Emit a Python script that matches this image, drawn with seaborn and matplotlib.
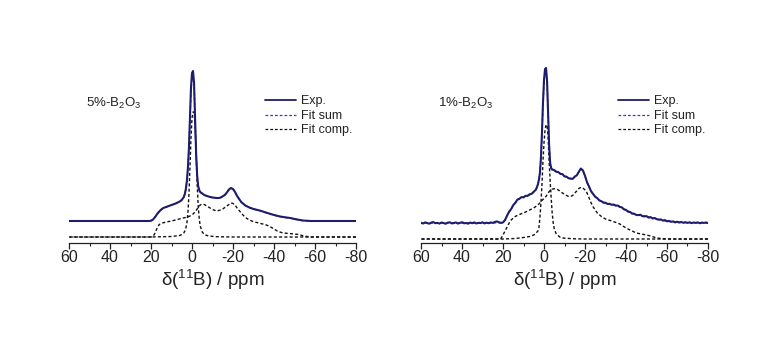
import matplotlib
matplotlib.use("Agg")
import numpy as np
import pandas as pd
import matplotlib.pyplot as plt
import seaborn as sns
from matplotlib.ticker import MultipleLocator
from matplotlib.lines import Line2D

# ---------------- data (intensity in arbitrary units) ----------------
# 5%-B2O3 panel
ppm_exp_5 = [60, 50, 40, 30, 25, 21, 20, 19, 18, 17, 16, 15, 14, 12, 10, 8, 6, 5, 4, 3.5, 3,
             2.5, 2, 1.5, 1, 0.5, 0, -0.5, -1, -1.5, -2, -2.5, -3, -3.5, -4, -5, -6, -8, -10,
             -12, -13, -14, -16, -17, -18, -19, -20, -21, -22, -24, -26, -28, -30, -33, -36,
             -40, -43, -46, -48, -50, -54, -58, -62, -70, -80]
exp_5 = [22, 22, 22, 22, 22, 22, 22.3, 23.5, 26, 29, 31.5, 33.5, 35, 36.5, 38, 39.5, 41.5, 43,
         46, 49, 54, 62, 75, 95, 125, 155, 170, 172, 160, 125, 90, 68, 57, 53, 51, 49.5, 48,
         46.5, 45.5, 45, 45, 45.5, 48, 50.5, 53.5, 55, 54, 51, 47, 41, 37.5, 35.5, 34, 32.5,
         30.5, 28, 26.5, 25.5, 25, 24, 22.5, 22, 22, 22, 22]
fitsum_5 = [22, 22, 22, 22, 22, 22, 22.2, 23.3, 25.8, 28.8, 31.3, 33.3, 34.8, 36.4, 37.9, 39.4,
            41.4, 42.9, 45.8, 48.8, 53.8, 61.5, 74, 94, 123, 152, 167, 169, 158, 124, 89, 67.5,
            56.8, 52.8, 50.8, 49.3, 47.8, 46.4, 45.4, 44.9, 44.9, 45.4, 47.8, 50.3, 53.2, 54.7,
            53.8, 50.8, 46.9, 41, 37.4, 35.4, 33.9, 32.4, 30.4, 27.9, 26.4, 25.4, 24.9, 23.9,
            22.4, 22, 22, 22, 22]
ppm_broad_5 = [60, 30, 20, 19, 18, 17, 16, 15, 14, 12, 10, 8, 5, 2, 0, -1, -2, -3, -4, -5, -6,
               -8, -10, -12, -14, -15, -17, -19, -20, -21, -22, -24, -26, -28, -30, -33, -36,
               -38, -40, -42, -44, -46, -50, -52, -54, -56, -58, -80]
broad_5 = [6, 6, 6, 6.5, 10, 15, 18.5, 19.5, 20.3, 21.2, 22, 23, 24.7, 26, 28, 30, 32.5, 35.5,
           38, 39, 38.5, 36, 33.5, 32, 33, 34, 37, 40, 39.5, 38, 35, 30, 25.5, 23, 21.3, 19.8,
           18.2, 16.5, 14, 11.5, 10.3, 9.7, 9, 8.5, 7.3, 6.5, 6, 6]
ppm_narrow_5 = [60, 20, 10, 6, 5, 4, 3.5, 3, 2.5, 2, 1.5, 1, 0.5, 0, -0.5, -1, -1.5, -2, -2.5,
                -3, -3.5, -4, -5, -6, -8, -12, -20, -80]
narrow_5 = [6, 6, 6.5, 7.5, 8.5, 10, 12, 15, 20, 30, 48, 75, 105, 125, 131, 131, 118, 90, 60,
            38, 25, 17, 11, 8.5, 7, 6.3, 6, 6]

# 1%-B2O3 panel
ppm_exp_1 = ([float(v) for v in range(60, 3, -1)] +
             [3.5, 3, 2.5, 2, 1.5, 1, 0.5, 0, -0.5, -1, -1.5, -2, -2.5, -3, -3.5, -4] +
             [float(v) for v in range(-5, -81, -1)])
exp_1 = [20.2, 19.5, 20.6, 20.0, 19.3, 20.4, 20.9, 19.8, 20.1, 19.4, 20.5, 20.0, 19.2, 20.3,
         20.7, 19.6, 19.9, 20.6, 19.4, 20.1, 20.8, 19.7, 20.0, 19.3, 20.4, 19.8, 20.6, 19.5,
         20.2, 19.9, 20.7, 19.6, 20.3, 19.8, 20.5, 20.1, 21.0, 21.6, 20.8, 20.0, 20.6, 23.0,
         27.5, 31.4, 34.0, 37.9, 40.1, 43.4, 44.2, 45.9, 45.6, 47.2, 47.1, 48.7, 49.2, 51.3,
         53.2,
         55.5, 58.5, 63, 70, 85, 110, 140, 163, 174, 175, 162, 130, 98, 80, 75, 73.5,
         72.9, 71.2, 70.9, 69.1, 68.9, 66.6, 66.3, 64.7, 64.5, 64.1, 66.4, 67.7, 71.3, 74.5,
         72.5, 67.2, 60.7, 56.3, 51.6, 48.9, 46.2, 44.8, 42.5, 41.8, 40.3, 40.3, 39.0, 39.2,
         38.2, 38.5, 37.3, 37.5, 36.1, 35.6, 33.7, 33.1, 31.3, 31.1, 29.3, 29.3, 28.0, 27.9,
         28.3, 26.8, 26.6, 26.9, 25.4, 25.9, 24.5, 25.0, 23.9, 23.3, 23.6, 22.4, 22.9, 21.7,
         22.1, 21.2, 21.6, 20.6, 21.3, 20.4, 21.0, 20.2, 20.8, 20.1, 20.7, 19.9, 20.5, 20.1,
         20.6, 19.8, 20.4, 20.1, 20.5, 19.9]
ppm_sum_1 = [60, 40, 22, 20, 19, 18, 17, 16, 15, 14, 13, 12, 10, 8, 6, 5, 4, 3.5, 3, 2.5, 2,
             1.5, 1, 0.5, 0, -0.5, -1, -1.5, -2, -2.5, -3, -3.5, -4, -6, -8, -10, -12, -13,
             -14, -16, -17, -18, -19, -20, -21, -22, -24, -26, -28, -30, -33, -36, -40, -45,
             -50, -55, -60, -70, -80]
sum_1 = [20, 20, 20.2, 20.6, 22.8, 27.2, 31, 34.4, 37.4, 40.3, 42.8, 44.4, 46, 47.5, 49.4,
         50.9, 53.3, 55.3, 58.2, 62.6, 69.5, 84, 108, 137, 160, 171, 172, 160, 128, 97, 79.5,
         74.6, 73.1, 71.3, 69.4, 66.9, 64.9, 64.1, 64.4, 67.8, 70.8, 74, 72.3, 67, 60.8, 56,
         48.4, 44.4, 41.4, 39.9, 38.4, 37.1, 32.7, 28.2, 26.5, 24, 21.7, 20.3, 20]
ppm_broad_1 = [60, 22, 21, 20, 19, 18, 17, 16, 15, 14, 12, 10, 8, 5, 3, 2, 1, 0, -1, -2, -3,
               -4, -5, -6, -7, -9, -11, -12, -13, -14, -15, -16, -17, -18, -19, -20, -21, -22,
               -23, -24, -25, -26, -28, -30, -33, -35, -37, -40, -42, -45, -48, -50, -52, -55,
               -58, -60, -80]
broad_1 = [4, 4, 4.5, 8, 12, 16, 20, 23, 25, 26.6, 28.5, 30, 32, 35, 38, 40, 42.5, 44.5, 46.6,
           50, 52.6, 53.8, 54.3, 54, 53, 50, 47.5, 46.6, 46.6, 47.5, 50, 52, 54.5, 55.6, 55, 53,
           50, 45, 40, 36, 33, 30, 26.5, 24, 22, 20.6, 19, 15, 13, 10, 8.8, 8, 7, 5, 4.3, 4, 4]
ppm_narrow_1 = [60, 20, 14, 10, 7, 5, 4, 3, 2.5, 2, 1.5, 1, 0.5, 0, -0.5, -1, -1.5, -2, -2.5,
                -3, -3.5, -4, -4.5, -5, -6, -8, -10, -15, -20, -80]
narrow_1 = [4, 4, 4.5, 5.5, 6.5, 8, 9.5, 12, 15, 25, 40, 58, 82, 100, 113, 118, 118, 105, 82,
            62, 45, 30, 20, 14, 9, 5.5, 4.8, 4.2, 4, 4]

sample_labels = ["5%-B$_2$O$_3$", "1%-B$_2$O$_3$"]
legend_labels = ["Exp.", "Fit sum", "Fit comp."]
x_ticks = [60, 40, 20, 0, -20, -40, -60, -80]

# ---------------- style ----------------
sns.set_style("ticks")
plt.rcParams["font.family"] = ["Liberation Sans", "DejaVu Sans"]
plt.rcParams["mathtext.fontset"] = "custom"
plt.rcParams["mathtext.rm"] = "Liberation Sans"
plt.rcParams["mathtext.it"] = "Liberation Sans:italic"
plt.rcParams["mathtext.bf"] = "Liberation Sans:bold"

EXP_C = "#1d1d6b"
SUM_C = "#3a3ad0"
COMP_C = "#111111"
DASH = (0, (2.2, 1.6))

fig = plt.figure(figsize=(7.61, 3.55), dpi=100)
axes = [fig.add_axes([69 / 761, 112 / 355, 287 / 761, 180 / 355]),
        fig.add_axes([421 / 761, 112 / 355, 287 / 761, 180 / 355])]

panels = [
    (ppm_exp_5, exp_5, ppm_exp_5, fitsum_5, ppm_broad_5, broad_5, ppm_narrow_5, narrow_5),
    (ppm_exp_1, exp_1, ppm_sum_1, sum_1, ppm_broad_1, broad_1, ppm_narrow_1, narrow_1),
]

for i, (ax, p) in enumerate(zip(axes, panels)):
    pe, ye, ps, ys, pb, yb, pn, yn = p
    sns.lineplot(x=pb, y=yb, ax=ax, color=COMP_C, lw=1.0, linestyle=DASH, estimator=None)
    sns.lineplot(x=pn, y=yn, ax=ax, color=COMP_C, lw=1.0, linestyle=DASH, estimator=None)
    sns.lineplot(x=ps, y=ys, ax=ax, color=SUM_C, lw=1.0, linestyle=DASH, estimator=None)
    sns.lineplot(x=pe, y=ye, ax=ax, color=EXP_C, lw=1.5, estimator=None)

    ax.set_xlim(60, -80)
    ax.set_ylim(0, 180)
    ax.set_yticks([])
    ax.set_ylabel("")
    ax.set_xticks(x_ticks)
    ax.set_xticklabels([str(t) for t in x_ticks])
    ax.xaxis.set_minor_locator(MultipleLocator(10))
    ax.tick_params(axis="x", which="major", direction="out", length=4, width=0.9,
                   labelsize=11.5, pad=1, colors="#222222")
    ax.tick_params(axis="x", which="minor", direction="out", length=2.2, width=0.8,
                   colors="#222222")
    for s in ["left", "top", "right"]:
        ax.spines[s].set_visible(False)
    ax.spines["bottom"].set_linewidth(0.9)
    ax.spines["bottom"].set_color("#222222")
    ax.set_xlabel("δ($^{11}$B) / ppm", fontsize=13.5, labelpad=2, color="#222222")

    ax.text(0.058, 0.775, sample_labels[i], transform=ax.transAxes, fontsize=9.5,
            ha="left", va="center", color="#222222")

    handles = [Line2D([], [], color=EXP_C, lw=1.3),
               Line2D([], [], color=SUM_C, lw=0.9, linestyle=DASH),
               Line2D([], [], color=COMP_C, lw=0.9, linestyle=DASH)]
    leg = ax.legend(handles, legend_labels, loc="upper left",
                    bbox_to_anchor=(0.683 if i == 0 else 0.686, 0.82),
                    frameon=False, fontsize=9, handlelength=2.5, handletextpad=0.35,
                    labelspacing=0.2, borderpad=0, borderaxespad=0)
    for t in leg.get_texts():
        t.set_color("#222222")

fig.savefig("out.png", dpi=100, facecolor="white")
